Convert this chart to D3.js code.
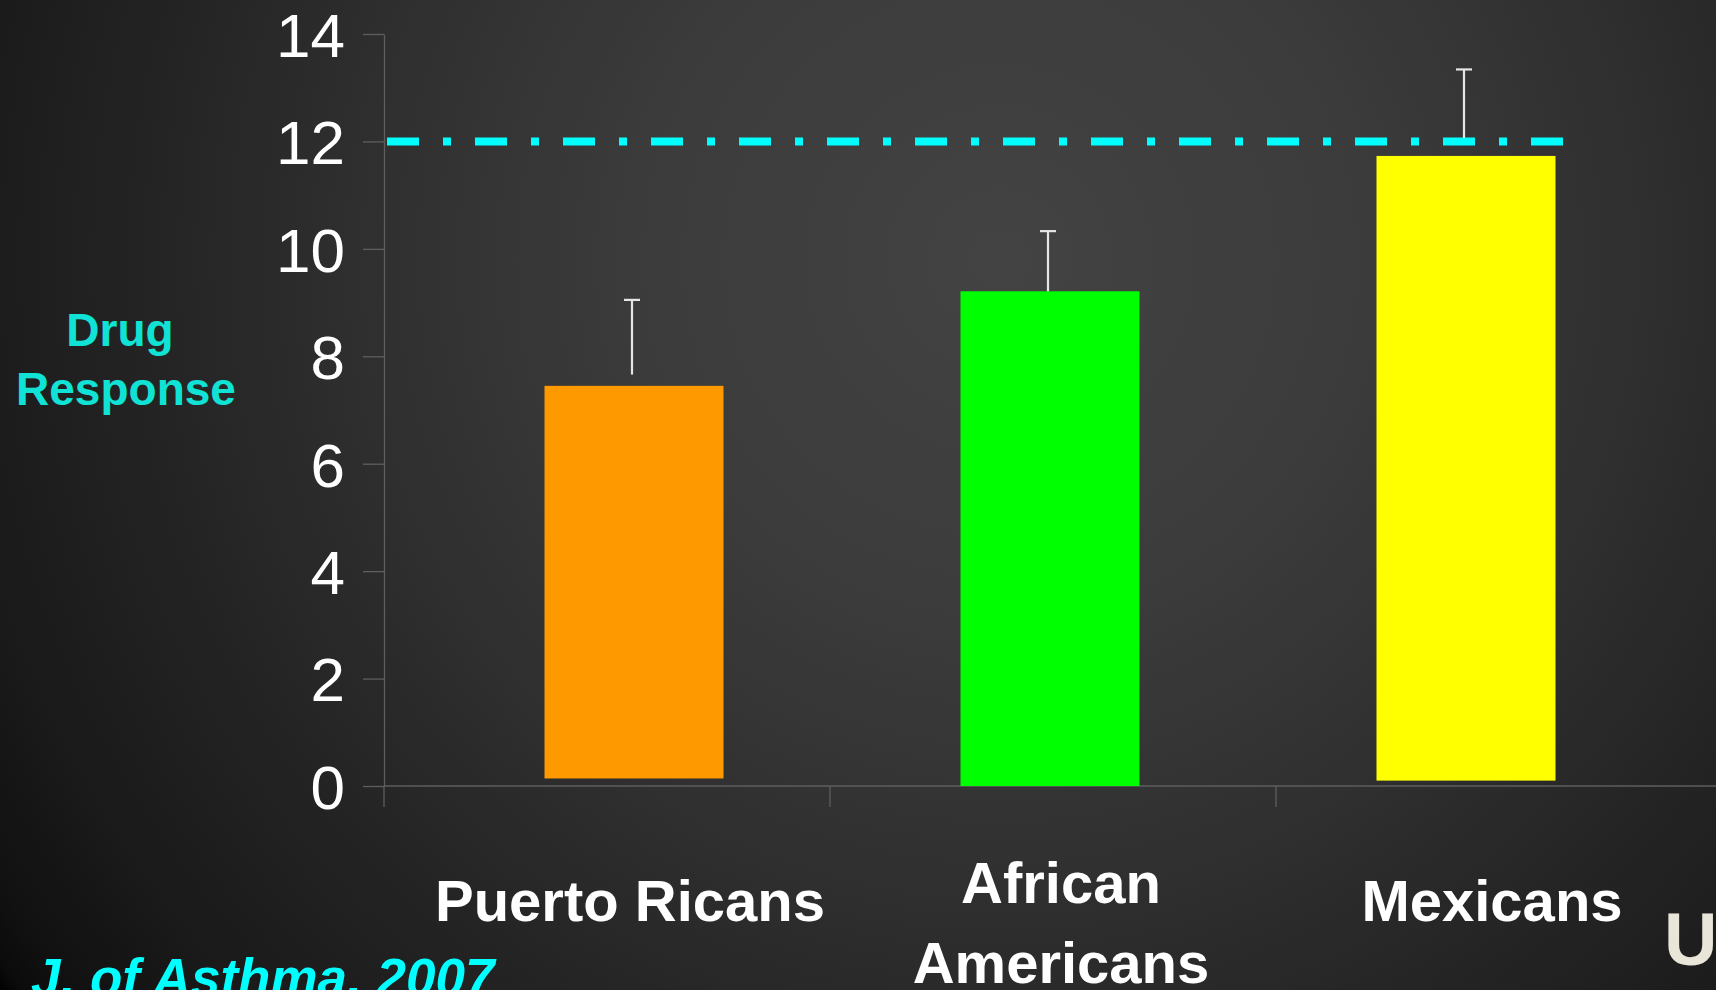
<!DOCTYPE html>
<html>
<head>
<meta charset="utf-8">
<script src="https://cdn.jsdelivr.net/npm/d3@7"></script>
<style>
  html, body { margin: 0; padding: 0; background: #000; overflow: hidden; }
  svg { display: block; }
  text { font-family: "Liberation Sans", Arial, sans-serif; }
</style>
</head>
<body>
<svg id="chart" width="1716" height="990"></svg>
<script>
// ---- data ----
const categories = ["Puerto Ricans", "African Americans", "Mexicans"];
const labelLines = [["Puerto Ricans"], ["African", "Americans"], ["Mexicans"]];
const values = [7.45, 9.21, 11.73];
const barBase = [0.14, 0, 0.1];
const errLow = [7.66, 9.21, 12.06];
const errHigh = [9.05, 10.33, 13.34];
const barColors = ["#ff9900", "#00ff00", "#ffff00"];
const yTicks = [0, 2, 4, 6, 8, 10, 12, 14];
const referenceValue = 12;
const yTitle = ["Drug", "Response"];
const citation = "J. of Asthma, 2007";

const svg = d3.select("#chart");
const W = 1716, H = 990;

// background
const defs = svg.append("defs");
const grad = defs.append("radialGradient").attr("id", "bg")
  .attr("gradientUnits", "userSpaceOnUse")
  .attr("cx", 1000).attr("cy", 260).attr("r", 1240)
  .attr("fx", 1000).attr("fy", 260);
[[0, "#434343"], [0.3, "#3b3b3b"], [0.5, "#303030"], [0.7, "#232323"],
 [0.85, "#1a1a1a"], [0.95, "#111111"], [0.985, "#0b0b0b"], [1, "#000000"]]
  .forEach(([o, c]) => grad.append("stop").attr("offset", o).attr("stop-color", c));
svg.append("rect").attr("width", W).attr("height", H).attr("fill", "url(#bg)");

// scales
const y = d3.scaleLinear().domain([0, 14]).range([786, 34]);
const xBand = d3.scaleBand().domain(categories).range([384, 1722]);
const xBar = d3.scalePoint().domain(categories).range([634, 1466]);
const xLabel = d3.scalePoint().domain(categories).range([630, 1492]);
const barW = 179;
const axisColor = "#5e5e5e";

// y axis
const yAxis = d3.axisLeft(y).tickValues(yTicks).tickSize(21).tickSizeOuter(0).tickPadding(18);
const gy = svg.append("g").attr("transform", "translate(384,0)").call(yAxis);
gy.select(".domain").attr("stroke", axisColor).attr("stroke-width", 1.3);
gy.selectAll(".tick line").attr("stroke", axisColor).attr("stroke-width", 1.3);
gy.selectAll(".tick text").attr("fill", "#ffffff")
  .style("font-family", "'Liberation Sans', Arial, sans-serif")
  .style("font-size", "62px").attr("dy", "0.36em");

// x axis line and category boundary ticks
svg.append("line").attr("x1", 384).attr("x2", W).attr("y1", y(0)).attr("y2", y(0))
  .attr("stroke", axisColor).attr("stroke-width", 1.3);
svg.selectAll(".xtick").data(categories).enter().append("line")
  .attr("x1", d => xBand(d)).attr("x2", d => xBand(d))
  .attr("y1", y(0)).attr("y2", y(0) + 21)
  .attr("stroke", axisColor).attr("stroke-width", 1.3);

// bars
svg.selectAll(".bar").data(categories).enter().append("rect")
  .attr("x", d => xBar(d) - barW / 2)
  .attr("width", barW)
  .attr("y", (d, i) => y(values[i]))
  .attr("height", (d, i) => y(barBase[i]) - y(values[i]))
  .attr("fill", (d, i) => barColors[i]);

// reference dash-dot line
svg.append("line")
  .attr("x1", 387)
  .attr("x2", xBar(categories[2]) + barW / 2 + 8)
  .attr("y1", y(referenceValue)).attr("y2", y(referenceValue))
  .attr("stroke", "#00ffff").attr("stroke-width", 8)
  .attr("stroke-dasharray", "32 24 8 24");

// error bars
const eg = svg.selectAll(".err").data(categories).enter().append("g");
eg.append("line")
  .attr("x1", d => xBar(d) - 2).attr("x2", d => xBar(d) - 2)
  .attr("y1", (d, i) => y(errLow[i])).attr("y2", (d, i) => y(errHigh[i]))
  .attr("stroke", "#e6e6e6").attr("stroke-width", 2.2);
eg.append("line")
  .attr("x1", d => xBar(d) - 10).attr("x2", d => xBar(d) + 6)
  .attr("y1", (d, i) => y(errHigh[i])).attr("y2", (d, i) => y(errHigh[i]))
  .attr("stroke", "#e6e6e6").attr("stroke-width", 2.2);

// category labels
const baselines = [[921], [903, 983], [921]];
categories.forEach((c, i) => {
  labelLines[i].forEach((ln, j) => {
    svg.append("text").attr("x", xLabel(c)).attr("y", baselines[i][j])
      .attr("text-anchor", "middle").attr("fill", "#ffffff")
      .attr("font-weight", "bold").attr("font-size", 58).text(ln);
  });
});

// y title
svg.append("text").attr("x", 120).attr("y", 346).attr("text-anchor", "middle")
  .attr("fill", "#10e3d6").attr("font-weight", "bold").attr("font-size", 46).text(yTitle[0]);
svg.append("text").attr("x", 126).attr("y", 405).attr("text-anchor", "middle")
  .attr("fill", "#10e3d6").attr("font-weight", "bold").attr("font-size", 46).text(yTitle[1]);

// citation
svg.append("text").attr("x", 31).attr("y", 996)
  .attr("fill", "#00ffff").attr("font-weight", "bold").attr("font-style", "italic")
  .attr("font-size", 53).text(citation);

// cut-off slide text at right edge
svg.append("text").attr("x", 1664).attr("y", 965)
  .attr("fill", "#e9e5d9").attr("font-weight", "bold").attr("font-size", 74).text("U");
</script>
</body>
</html>
